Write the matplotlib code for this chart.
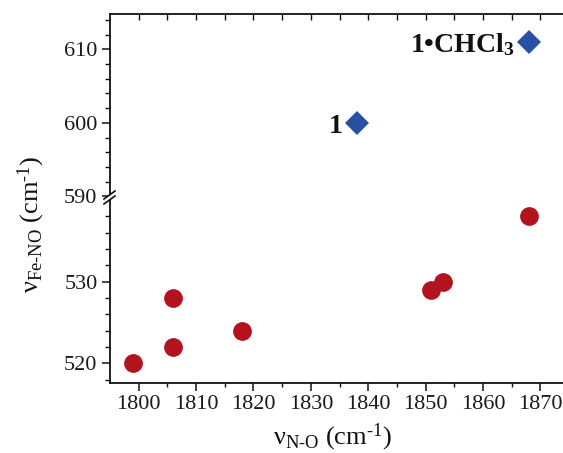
import matplotlib
matplotlib.use("Agg")
import matplotlib.pyplot as plt
from matplotlib.ticker import FixedLocator
from matplotlib.lines import Line2D
from matplotlib.patches import Polygon

# ---- data ----
nu_NO_circ = [1799, 1806, 1806, 1818, 1851, 1853, 1868]
nu_FeNO_circ = [520, 522, 528, 524, 529, 530, 538]
nu_NO_dia = [1838, 1868]
nu_FeNO_dia = [600, 611]
dia_labels = ["1", "1•CHCl$_{\\mathbf{3}}$"]
x_ticks = [1800, 1810, 1820, 1830, 1840, 1850, 1860, 1870]
y_ticks_low = [520, 530]
y_ticks_up = [590, 600, 610]

plt.rcParams["font.family"] = ["Liberation Serif", "DejaVu Serif"]
plt.rcParams["mathtext.fontset"] = "custom"
plt.rcParams["mathtext.rm"] = "Liberation Serif"
plt.rcParams["mathtext.it"] = "Liberation Serif:italic"
plt.rcParams["mathtext.bf"] = "Liberation Serif:bold"
plt.rcParams["mathtext.default"] = "regular"

W, H = 563, 453
fig = plt.figure(figsize=(W / 100, H / 100), dpi=100)

def fx(px):
    return px / W

def fy(py):
    return (H - py) / H

left, right = 110, 569
top, brk, bottom = 14, 200, 383
ax_low = fig.add_axes([fx(left), fy(bottom), fx(right) - fx(left), fy(brk) - fy(bottom)])
ax_up = fig.add_axes([fx(left), fy(brk), fx(right) - fx(left), fy(top) - fy(brk)], sharex=ax_low)

red = "#B3121F"
blue = "#2A50A6"
for ax in (ax_low, ax_up):
    ax.plot(nu_NO_circ, nu_FeNO_circ, "o", color=red, ms=13.5, mew=0, zorder=3)
    ax.plot(nu_NO_dia, nu_FeNO_dia, "D", color=blue, ms=12.2, mew=0, zorder=3)
    ax.patch.set_alpha(0)
    for s in ax.spines.values():
        s.set_linewidth(1.3)
        s.set_color("#111111")
    ax.spines["right"].set_visible(False)

ax_low.set_xlim(1795, 1875)
ax_low.set_ylim(517.6, 540.0)
ax_up.set_ylim(589.5, 614.8)

ax_low.spines["top"].set_visible(False)
ax_up.spines["bottom"].set_visible(False)

# x ticks
ax_low.xaxis.set_major_locator(FixedLocator(x_ticks))
ax_low.xaxis.set_minor_locator(FixedLocator([x + 5 for x in x_ticks[:-1]] + [1875]))
ax_low.tick_params(axis="x", which="major", direction="out", length=5.5, width=1.1,
                   labelsize=16, pad=3, colors="#111111", labelcolor="#1a1a1a")
ax_low.tick_params(axis="x", which="minor", direction="out", length=3, width=1.0, colors="#111111")
ax_up.tick_params(axis="x", which="both", direction="in", length=4.5, width=1.0,
                  top=True, bottom=False, labeltop=False, labelbottom=False, colors="#111111")

# y ticks
ax_low.yaxis.set_major_locator(FixedLocator(y_ticks_low))
ax_low.yaxis.set_minor_locator(FixedLocator([518, 522, 524, 526, 528, 532, 534, 536, 538]))
ax_up.yaxis.set_major_locator(FixedLocator(y_ticks_up))
ax_up.yaxis.set_minor_locator(FixedLocator([592, 594, 596, 598, 602, 604, 606, 608, 612, 614]))
for ax in (ax_low, ax_up):
    ax.tick_params(axis="y", which="major", direction="out", length=6, width=1.1,
                   labelsize=16, pad=3, colors="#111111", labelcolor="#1a1a1a")
    ax.tick_params(axis="y", which="minor", direction="out", length=3.5, width=1.0, colors="#111111")

# annotations
for x, y, t in zip(nu_NO_dia, nu_FeNO_dia, dia_labels):
    ax_up.annotate(t, (x, y), xytext=(-10.5, -7), textcoords="offset points",
                   ha="right", va="baseline", fontsize=20, fontweight="bold", color="#111111")

# axis labels
fig.text(fx(332), fy(444), "ν$_{N\\text{-}O}$ (cm$^{\\text{-}1}$)", ha="center", va="baseline",
         fontsize=19, color="#111111")
fig.text(fx(31), fy(224), "ν$_{Fe\\text{-}NO}$ (cm$^{\\text{-}1}$)", ha="center", va="center",
         rotation=90, fontsize=19, color="#111111")

# break mark on the left spine
gap = Polygon([[fx(104), fy(199)], [fx(115), fy(191)], [fx(115), fy(196)], [fx(104), fy(204)]],
              closed=True, transform=fig.transFigure, facecolor="white", edgecolor="none", zorder=5)
fig.add_artist(gap)
for dy in (0, 5):
    fig.add_artist(Line2D([fx(104), fx(115)], [fy(199 + dy), fy(191 + dy)],
                          transform=fig.transFigure, color="#111111", lw=1.2, zorder=6))

fig.savefig("out.png", dpi=100)
